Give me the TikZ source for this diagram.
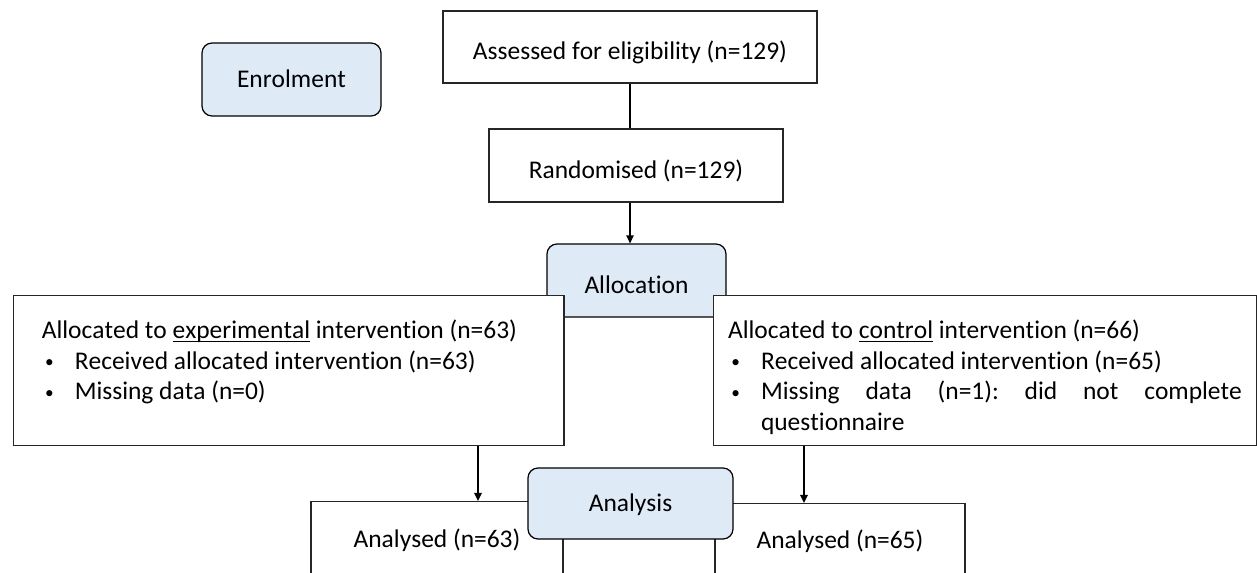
\documentclass[tikz,border=0pt]{standalone}
\usepackage{fontspec}
\setmainfont{Carlito}[Kerning=Off, Ligatures=NoCommon]
\usetikzlibrary{arrows.meta}
\setlength\parindent{0pt}
\hyphenpenalty=10000
\tolerance=10000
\frenchspacing
\newcommand{\uword}[1]{\setbox0\hbox{#1}\rlap{\rule[-2.8pt]{\wd0}{0.9pt}}\box0\relax}
\newcommand{\bulletline}[1]{\hangindent=24.75pt\hangafter=1 \makebox[24.75pt][l]{\hspace{2.5pt}\raisebox{1.2pt}{\fontsize{13pt}{13pt}\selectfont\textbullet}}#1\par}
\tikzset{every picture/.style={line width=0.75pt}}
\tikzset{
  every node/.style={font=\fontsize{19.1pt}{22.9pt}\selectfont},
  box/.style={draw={rgb, 255:red, 38; green, 38; blue, 38}, line width=1.1pt, fill=white, text height=15pt, text depth=2.25pt},
  lowtext/.style={text height=19.5pt, text depth=0pt},
  stage/.style={draw=black, line width=0.9pt, fill={rgb, 255:red, 222; green, 234; blue, 246}, rounded corners=7.5pt, minimum width=134.25pt, minimum height=54.75pt, text height=15pt, text depth=2.25pt},
  conn/.style={line width=1.1pt, draw=black},
  arr/.style={conn, -{Triangle[length=6pt,width=5.5pt]}}
}

\begin{document}
\begin{tikzpicture}[x=0.75pt,y=0.75pt,yscale=-1,xscale=1]
\useasboundingbox (0,0) rectangle (1257,573);
\clip (0,0) rectangle (1257,573);

% Stage: Enrolment
\node [stage] (enrol) at (291.5,79.5) {Enrolment};
% Assessed / Randomised
\node [box, lowtext, minimum width=280.5pt, minimum height=54pt] (assess) at (630,47) {Assessed for eligibility (n=129)};
\node [box, lowtext, minimum width=220.5pt, minimum height=54.75pt] (random) at (636,165.5) {Randomised (n=129)};

% Stage: Allocation (under the two arm boxes)
\node [stage, lowtext] (alloc) at (636.5,280.5) {Allocation};

% Arm boxes
\node [box, anchor=north west, inner xsep=21.4pt, inner ysep=0pt, text width=370.1pt, align=justify, text height=32.25pt, text depth=80.25pt] (exper) at (12.5,295) {Allocated to \uword{experimental} intervention (n=63)\par
\bulletline{Received allocated intervention (n=63)}
\bulletline{Missing data (n=0)}};
\node [box, anchor=north west, inner xsep=9.75pt, inner ysep=0pt, text width=385.5pt, minimum width=406.9pt, align=justify, text height=32.25pt, text depth=80.25pt] (control) at (713,295) {Allocated to \uword{control} intervention (n=66)\par
\bulletline{Received allocated intervention (n=65)}
\bulletline{Missing data (n=1): did not complete\linebreak questionnaire}};

% Analysed boxes
\node [box, anchor=north, minimum width=189pt, inner ysep=0pt, text height=34.5pt, text depth=40.5pt] (anaexp) at (437,501) {Analysed (n=63)};
\node [box, anchor=north, minimum width=187.5pt, inner ysep=0pt, text height=33.75pt, text depth=41.25pt] (anactrl) at (840,503) {Analysed (n=65)};

% Stage: Analysis (over the analysed boxes)
\node [stage, minimum width=153.75pt, minimum height=53.25pt] (analysis) at (630.5,503.5) {Analysis};

% Connectors
\coordinate (e1) at ([xshift=30.75pt]anaexp.north);
\coordinate (c1) at ([xshift=-27pt]anactrl.north);
\draw [conn] (assess.south) -- (assess.south |- random.north);
\draw [arr] (assess.south |- random.south) -- (assess.south |- alloc.north);
\draw [arr] (e1 |- exper.south) -- (e1);
\draw [arr] (c1 |- control.south) -- (c1);

\end{tikzpicture}
\end{document}
